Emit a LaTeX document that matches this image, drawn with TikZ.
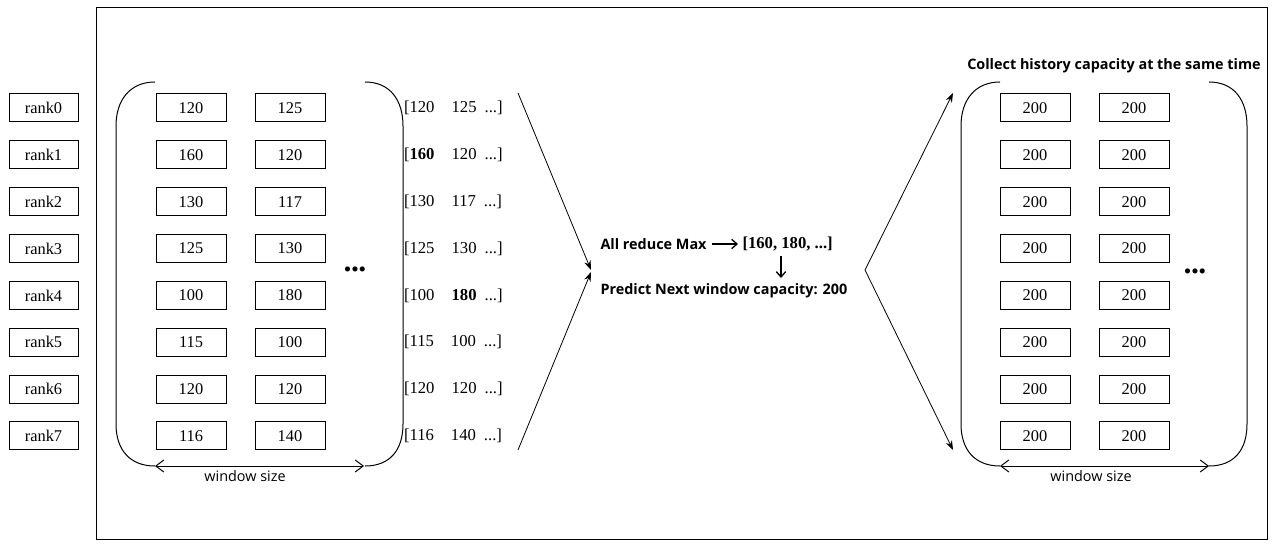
\documentclass[tikz,border=0pt]{standalone}
\usepackage{fontspec}
\setmainfont{Liberation Serif}
\newfontfamily\uisans{Open Sans}
\usetikzlibrary{arrows.meta}
\begin{document}
\begin{tikzpicture}[x=0.75pt,y=-0.75pt,line width=0.75pt,
  cell/.style={draw,minimum width=52.5pt,minimum height=21pt,inner sep=0pt,font=\fontsize{12.3}{14}\selectfont},
  rankbox/.style={draw,minimum width=51.75pt,minimum height=21pt,inner sep=0pt,font=\fontsize{12.3}{14}\selectfont},
  seq/.style={anchor=west,inner sep=0pt,font=\fontsize{12.5}{14}\selectfont},
  dots/.style={inner sep=0pt,font=\fontsize{16}{16}\selectfont},
  wlabel/.style={inner sep=0pt,font=\uisans\fontsize{10.8}{12}\selectfont},
  boldsans/.style={inner sep=0pt,anchor=west,font=\uisans\bfseries\fontsize{10.8}{12}\selectfont},
  bigarrow/.style={-{Stealth[length=7pt,width=5pt]},line width=0.6pt},
  smallarrow/.style={-{Straight Barb[length=4pt,width=7pt]},line width=1pt},
  widtharrow/.style={{Straight Barb[length=6pt,width=9pt]}-{Straight Barb[length=6pt,width=9pt]},line width=0.75pt},
  bracket/.style={line width=0.75pt}
]
\useasboundingbox (0,0) rectangle (1284,552);
\draw (96,8) rectangle (1267,539);

% rows
\foreach \i/\a/\b/\sa/\sb [evaluate=\i as \yy using 108+46.85*\i] in
  {0/120/125/120/125, 1/160/120/\textbf{160}/120, 2/130/117/130/117, 3/125/130/125/130,
   4/100/180/100/\textbf{180}, 5/115/100/115/100, 6/120/120/120/120, 7/116/140/116/140}{
  \node[rankbox] (rank\i) at (43.5,\yy) {rank\i};
  \node[cell] (l1\i) at (191,\yy) {\a};
  \node[cell] (l2\i) at (290,\yy) {\b};
  \node[seq] (s\i) at (403.5,\yy) {[\sa\hspace{12.8pt}\sb\hspace{6pt}...]};
  \node[cell] (r1\i) at (1035,\yy) {200};
  \node[cell] (r2\i) at (1134,\yy) {200};
}

\node[dots] (ldots) at (355,272) {\textbullet\textbullet\textbullet};
\node[dots] (rdots) at (1195,274) {\textbullet\textbullet\textbullet};

% left brackets
\draw[bracket] (155,82) .. controls (130,82) and (116,100) .. (116,126) -- (116,424) .. controls (116,450) and (130,466) .. (155,466);
\draw[bracket] (365,82) .. controls (390,82) and (403,100) .. (403,126) -- (403,424) .. controls (403,450) and (390,466) .. (365,466);
% right brackets
\draw[bracket] (1000,82) .. controls (975,82) and (961,100) .. (961,126) -- (961,424) .. controls (961,450) and (975,466) .. (1000,466);
\draw[bracket] (1209,82) .. controls (1234,82) and (1247,100) .. (1247,126) -- (1247,424) .. controls (1247,450) and (1234,466) .. (1209,466);

% window size arrows
\coordinate (lw1) at (155,466);
\coordinate (lw2) at (364,466);
\draw[widtharrow] (lw1) -- (lw2);
\node[wlabel] (lwl) at (245,476) {window size};
\coordinate (rw1) at (1000,466);
\coordinate (rw2) at (1209,466);
\draw[widtharrow] (rw1) -- (rw2);
\node[wlabel] (rwl) at (1091,476) {window size};

% centre
\node[boldsans] (allred) at (600,244) {All reduce Max};
\node[inner sep=0pt,anchor=west,font=\bfseries\fontsize{12.5}{14}\selectfont] (maxv) at (742,244) {[160, 180, ...]};
\node[boldsans] (pred) at (600,291) {Predict Next window capacity: 200};
\draw[smallarrow] ([xshift=4pt]allred.east) -- ([xshift=-3pt]maxv.west);
\coordinate (dtop) at (781,256);
\coordinate (dbot) at (781,278);
\draw[smallarrow] (dtop) -- (dbot);

\node[inner sep=0pt,font=\uisans\bfseries\fontsize{10.8}{12}\selectfont] (title) at (1114,66) {Collect history capacity at the same time};

% converging / diverging arrows
\coordinate (ltop) at (518,93);
\coordinate (lbot) at (518,450);
\coordinate (meet1) at (591,270);
\coordinate (meet2) at (591,272);
\draw[bigarrow] (ltop) -- (meet1);
\draw[bigarrow] (lbot) -- (meet2);
\coordinate (fork) at (865,270);
\coordinate (rtop) at (953,93);
\coordinate (rbot) at (953,450);
\draw[bigarrow] (fork) -- (rtop);
\draw[bigarrow] (fork) -- (rbot);
\end{tikzpicture}
\end{document}
